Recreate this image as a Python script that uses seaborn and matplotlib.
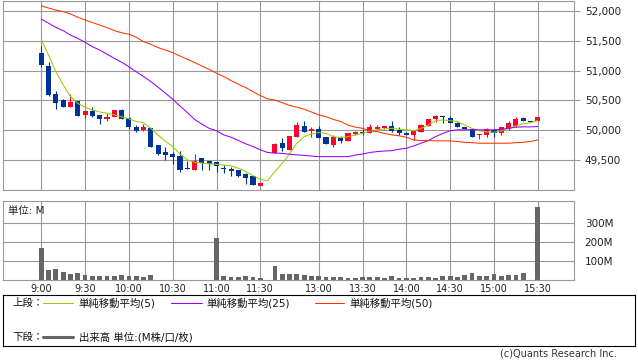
import matplotlib
matplotlib.use("Agg")
import matplotlib.pyplot as plt
import numpy as np
import seaborn as sns

# 5-minute bars, index 0 = 9:00 (lunch break collapsed)
opens = [51300, 51075, 50610, 50505, 50390, 50490, 50255, 50320, 50250, 50195,
         50215, 50340, 50205, 50060, 50005, 50035, 49750, 49635, 49600, 49565,
         49365, 49330, 49530, 49485, 49460, 49370, 49355, 49330, 49265, 49230,
         49070, 49110, 49610, 49780, 49670, 49890, 50070, 49990, 50020, 49880,
         49750, 49865, 49825, 49935, 49970, 49960, 50020, 50030, 50070, 50005,
         49960, 49925, 49975, 50075, 50195, 50240, 50200, 50115, 50060, 50025,
         49915, 49925, 50005, 49945, 50025, 50075, 50205, 50150, 50145]
highs = [51415, 51145, 50665, 50525, 50600, 50490, 50320, 50385, 50250, 50285,
         50340, 50355, 50225, 50080, 50105, 50035, 49750, 49720, 49640, 49650,
         49480, 49600, 49530, 49485, 49460, 49415, 49375, 49330, 49285, 49230,
         49115, 49115, 49780, 49860, 49905, 50140, 50155, 50060, 50070, 49880,
         49920, 49905, 49945, 49985, 50015, 50105, 50085, 50070, 50145, 50050,
         49975, 49990, 50105, 50190, 50255, 50240, 50240, 50140, 50060, 50025,
         49940, 50030, 50020, 50050, 50145, 50225, 50215, 50150, 50215]
lows = [51065, 50565, 50360, 50380, 50380, 50245, 50210, 50225, 50110, 50160,
        50215, 50195, 50015, 49975, 49990, 49725, 49585, 49500, 49435, 49305,
        49340, 49330, 49330, 49330, 49305, 49275, 49235, 49210, 49095, 49080,
        49070, 49105, 49610, 49655, 49670, 49890, 49975, 49890, 49870, 49770,
        49725, 49790, 49810, 49915, 49915, 49945, 50015, 50020, 49970, 49920,
        49915, 49835, 49965, 50075, 50130, 50125, 50115, 50050, 50025, 49890,
        49845, 49890, 49890, 49920, 50010, 50060, 50160, 50140, 50145]
closes = [51095, 50590, 50460, 50380, 50475, 50245, 50320, 50245, 50195, 50225,
          50340, 50195, 50050, 49990, 50055, 49725, 49605, 49585, 49555, 49330,
          49340, 49490, 49455, 49435, 49405, 49350, 49320, 49230, 49200, 49080,
          49115, 49105, 49770, 49695, 49905, 50080, 49975, 50025, 49875, 49770,
          49880, 49810, 49945, 49970, 49945, 50050, 50055, 50070, 49990, 49960,
          49925, 49990, 50080, 50190, 50245, 50215, 50125, 50050, 50025, 49890,
          49940, 50025, 49960, 50050, 50115, 50190, 50160, 50140, 50215]

ma5 = [51515, 51260, 50980, 50760, 50565, 50450, 50385, 50340, 50305, 50285,
       50255, 50225, 50190, 50145, 50125, 50030, 49920, 49810, 49725, 49600,
       49500, 49460, 49445, 49435, 49425, 49415, 49400, 49360, 49305, 49235,
       49175, 49150, 49305, 49445, 49600, 49780, 49890, 49935, 49960, 49945,
       49890, 49875, 49890, 49920, 49945, 49985, 50005, 50020, 50030, 50015,
       50005, 49990, 50030, 50085, 50160, 50170, 50160, 50145, 50085, 50030,
       49990, 49970, 49965, 49985, 50030, 50070, 50105, 50125, 50160]
ma25 = [51865, 51795, 51725, 51670, 51595, 51540, 51475, 51400, 51345, 51275,
        51205, 51140, 51065, 50980, 50900, 50815, 50720, 50620, 50520, 50405,
        50295, 50180, 50100, 50030, 49990, 49920, 49880, 49825, 49770, 49725,
        49670, 49625, 49615, 49610, 49595, 49585, 49575, 49565, 49555, 49555,
        49555, 49555, 49555, 49580, 49600, 49625, 49640, 49650, 49655, 49680,
        49695, 49735, 49780, 49825, 49890, 49945, 49990, 50005, 50005, 50005,
        50005, 50005, 50005, 50015, 50030, 50050, 50055, 50055, 50060]
ma50 = [52085, 52050, 52015, 51990, 51950, 51895, 51850, 51805, 51765, 51720,
        51670, 51635, 51610, 51560, 51485, 51440, 51385, 51345, 51300, 51245,
        51190, 51135, 51075, 51020, 50955, 50900, 50830, 50770, 50715, 50645,
        50580, 50525, 50505, 50460, 50415, 50385, 50350, 50305, 50255, 50225,
        50180, 50145, 50085, 50050, 50030, 49990, 49975, 49945, 49920, 49905,
        49880, 49835, 49825, 49825, 49820, 49820, 49820, 49810, 49795, 49790,
        49780, 49780, 49780, 49780, 49780, 49790, 49795, 49810, 49835]

nan = np.nan
volume = [172, 54, 61, 46, 33, 39, 28, 23, 23, 23, 25, 28, 25, 25, 19, 28,
          nan, nan, nan, nan, nan, nan, nan, nan,
          223, 23, 19, 19, 23, 19, 14,
          nan,
          75, 33, 33, 33, 28, 25, 24, 18, 18, 18, 12, 14, 18, 18, 18, 12, 23,
          12, 12, 12, 18, 18, 12, 23, 23, 18, 28, 39, 23, 23, 33, 23, 28, 28,
          39, 2, 386]

time_ticks = [0, 6, 12, 18, 24, 30, 38, 44, 50, 56, 62, 68]
time_labels = ["9:00", "9:30", "10:00", "10:30", "11:00", "11:30",
               "13:00", "13:30", "14:00", "14:30", "15:00", "15:30"]
price_ticks = [49500, 50000, 50500, 51000, 51500, 52000]
price_labels = ["49,500", "50,000", "50,500", "51,000", "51,500", "52,000"]
vol_ticks = [100, 200, 300]
vol_labels = ["100M", "200M", "300M"]

UP = "#ff0033"
DOWN = "#003399"
GRID = "#999999"
MA_LW = 0.75

sns.set_style("white")
plt.rcParams["font.family"] = ["DejaVu Sans", "Noto Sans CJK JP"]

W, H = 638, 362


def box(l, t, r, b):
    return [l / W, 1 - b / H, (r - l) / W, (b - t) / H]


fig = plt.figure(figsize=(W / 100, H / 100), dpi=100)
ax_p = fig.add_axes(box(3.3, 0.5, 574.3, 190.3))
ax_v = fig.add_axes(box(3.3, 201, 574.3, 280.3))
ax_l = fig.add_axes(box(3.3, 295.3, 635, 346.3))

idx = np.arange(len(opens))
o = np.array(opens)
c = np.array(closes)
colors = [UP if cc >= oo else DOWN for oo, cc in zip(o, c)]

# ---- price panel
ax_p.vlines(idx, lows, highs, colors=colors, lw=0.8, zorder=2)
body = np.maximum(np.abs(c - o), 12)
ax_p.bar(idx, body, bottom=np.minimum(o, c), width=0.7, color=colors,
         linewidth=0, zorder=2)
sns.lineplot(x=idx, y=ma5, color="#99cc00", lw=MA_LW, ax=ax_p, zorder=3)
sns.lineplot(x=idx, y=ma25, color="#9900ff", lw=MA_LW, ax=ax_p, zorder=3)
sns.lineplot(x=idx, y=ma50, color="#ff3300", lw=MA_LW, ax=ax_p, zorder=3)

ax_p.set_xlim(-5.2, 73.0)
ax_p.set_ylim(48990, 52176)
ax_p.set_xticks(time_ticks)
ax_p.set_xticklabels([])
ax_p.set_yticks(price_ticks)
ax_p.set_yticklabels(price_labels)
ax_p.yaxis.tick_right()
ax_p.tick_params(axis="y", length=4.5, width=0.8, color=GRID, pad=3,
                 labelsize=7.5, labelcolor="#222222")
ax_p.tick_params(axis="x", length=0)

# ---- volume panel
sns.barplot(x=idx, y=volume, native_scale=True, width=0.65, color="#666666",
            linewidth=0, saturation=1, ax=ax_v, zorder=2)
ax_v.set_xlim(-5.2, 73.0)
ax_v.set_ylim(0, 417)
ax_v.set_xticks(time_ticks)
ax_v.set_xticklabels(time_labels)
ax_v.set_yticks(vol_ticks)
ax_v.set_yticklabels(vol_labels)
ax_v.yaxis.tick_right()
ax_v.tick_params(axis="y", length=0, pad=7.5, labelsize=7.5,
                 labelcolor="#222222")
ax_v.tick_params(axis="x", length=0, pad=2.5, labelsize=7,
                 labelcolor="#222222")
ax_v.set_xlabel("")
ax_v.set_ylabel("")
ax_v.text(0.008, 0.87, "単位: M", transform=ax_v.transAxes, fontsize=7.5,
          va="center", ha="left")

for ax in (ax_p, ax_v):
    ax.set_axisbelow(True)
    ax.grid(True, color=GRID, lw=0.8)
    for s in ax.spines.values():
        s.set_color(GRID)
        s.set_linewidth(0.8)

# ---- legend box (pixel coordinates)
ax_l.set_xlim(3.3, 635)
ax_l.set_ylim(346.3, 295.3)
ax_l.set_xticks([])
ax_l.set_yticks([])
for s in ax_l.spines.values():
    s.set_color("black")
    s.set_linewidth(0.8)

lfont = dict(fontsize=7.5, va="center", ha="left", color="#111111",
             family=["DejaVu Sans", "Noto Sans CJK JP"])
ax_l.text(12, 303, "上段：", **lfont)
ax_l.plot([42.7, 73.3], [303, 303], color="#99cc00", lw=MA_LW)
ax_l.text(78.7, 303, "単純移動平均(5)", **lfont)
ax_l.plot([171, 201.7], [303, 303], color="#9900ff", lw=MA_LW)
ax_l.text(206.7, 303, "単純移動平均(25)", **lfont)
ax_l.plot([315, 343.5], [303, 303], color="#ff3300", lw=MA_LW)
ax_l.text(349.6, 303, "単純移動平均(50)", **lfont)
ax_l.text(12, 337, "下段：", **lfont)
ax_l.plot([42.7, 73.3], [337, 337], color="#666666", lw=2.2)
ax_l.text(78.7, 337, "出来高 単位:(M株/口/枚)", **lfont)

fig.text(617 / W, 1 - 354 / H, "(c)Quants Research Inc.", ha="right",
         va="center", fontsize=7, color="#333333")

fig.savefig("out.png", dpi=100)
plt.close(fig)
